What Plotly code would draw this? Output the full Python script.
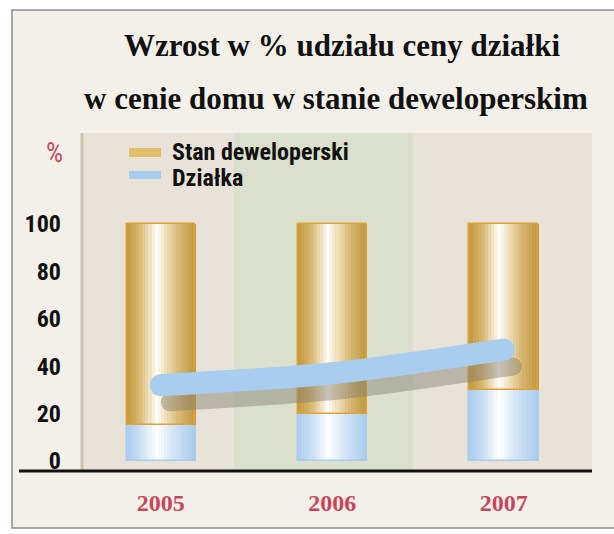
import plotly.graph_objects as go

# ---- data ----
years = ["2005", "2006", "2007"]
dzialka = [15, 20, 30]                 # share of plot price (%)
stan_deweloperski = [85, 80, 70]       # remaining share (%)
trend_dzialka = [32, 37, 47]           # trend line values (%)
y_ticks = [0, 20, 40, 60, 80, 100]

title_line1 = "Wzrost w % udziału ceny działki"
title_line2 = "w cenie domu w stanie deweloperskim"

# ---- styling helpers ----
def hex2rgb(h):
    h = h.lstrip("#")
    return tuple(int(h[i:i + 2], 16) for i in (0, 2, 4))

def interp(stops, t):
    for (t0, c0), (t1, c1) in zip(stops[:-1], stops[1:]):
        if t0 <= t <= t1:
            f = (t - t0) / (t1 - t0) if t1 > t0 else 0
            a, b = hex2rgb(c0), hex2rgb(c1)
            return "rgb(%d,%d,%d)" % tuple(round(a[k] + (b[k] - a[k]) * f) for k in range(3))
    return stops[-1][1]

gold_stops = [(0, "#C29A3E"), (0.18, "#D6B56C"), (0.44, "#FFFDF8"),
              (0.58, "#EEDDB4"), (0.8, "#D4B068"), (1, "#C09840")]
blue_stops = [(0, "#A9CDEE"), (0.2, "#C9DFF4"), (0.44, "#FFFFFF"),
              (0.6, "#E0ECF8"), (0.85, "#BBD6F0"), (1, "#A8CCEC")]

BAR_W = 0.40
N = 22
fig = go.Figure()

def add_cylinder(y, base, stops, edge):
    for i in range(N):
        t = (i + 0.5) / N
        w = BAR_W / N
        fig.add_trace(go.Bar(
            x=years, y=y, base=base, width=w * 1.25, offset=-BAR_W / 2 + i * w,
            marker=dict(color=interp(stops, t), line=dict(width=0)),
            showlegend=False, hoverinfo="skip"))
    fig.add_trace(go.Bar(
        x=years, y=y, base=base, width=BAR_W, offset=-BAR_W / 2,
        marker=dict(color="rgba(0,0,0,0)", line=dict(width=1.5, color=edge)),
        showlegend=False, hoverinfo="skip"))

add_cylinder(dzialka, [0] * len(years), blue_stops, "#A6CBEB")
add_cylinder(stan_deweloperski, dzialka, gold_stops, "#E0A238")

# shadow of trend line (shifted overlay axes)
fig.add_trace(go.Scatter(
    x=years, y=trend_dzialka, xaxis="x2", yaxis="y2", mode="lines+markers",
    line=dict(color="rgb(132,126,114)", width=18, shape="spline", smoothing=0.8),
    marker=dict(size=18, color="rgb(132,126,114)"), opacity=0.45,
    showlegend=False, hoverinfo="skip"))
# trend line
fig.add_trace(go.Scatter(
    x=years, y=trend_dzialka, xaxis="x3", yaxis="y3", mode="lines+markers",
    line=dict(color="#A8CDEE", width=22, shape="spline", smoothing=0.8),
    marker=dict(size=22, color="#A8CDEE"),
    showlegend=False, hoverinfo="skip"))

# ---- layout geometry ----
L, R, T, B = 82, 22, 133, 64
W_PX, H_PX = 614, 534
pw, ph = W_PX - L - R, H_PX - T - B
xr = [-0.46, 2.515]
yr = [-3.8, 138.4]
px_x = pw / (xr[1] - xr[0])
px_y = ph / (yr[1] - yr[0])
dx, dy = 9 / px_x, 17 / px_y

def px2paper_x(px):
    return (px - L) / pw

def px2paper_y(py):
    return (H_PX - B - py) / ph

narrow = "Liberation Sans Narrow, Roboto Condensed, DejaVu Sans Condensed, Arial Narrow, sans-serif"
serif = "Liberation Serif, Times New Roman, serif"

shapes = [
    # frame
    dict(type="rect", xref="paper", yref="paper", x0=px2paper_x(12), x1=px2paper_x(640),
         y0=px2paper_y(528), y1=px2paper_y(10), fillcolor="#F3F0E9",
         line=dict(color="#8C8C8C", width=1.5), layer="below"),
    # bands
    dict(type="rect", xref="paper", yref="paper", x0=0, x1=px2paper_x(234), y0=0, y1=1,
         fillcolor="#E8E2D8", line=dict(width=0), layer="below"),
    dict(type="rect", xref="paper", yref="paper", x0=px2paper_x(234), x1=px2paper_x(413), y0=0, y1=1,
         fillcolor="#DAE0CB", line=dict(width=0), layer="below"),
    dict(type="rect", xref="paper", yref="paper", x0=px2paper_x(413), x1=1, y0=0, y1=1,
         fillcolor="#E8E2D8", line=dict(width=0), layer="below"),
    # left tan line
    dict(type="line", xref="paper", yref="paper", x0=0, x1=0, y0=0, y1=1,
         line=dict(color="#CBC3AA", width=3), layer="below"),
    # axis baseline
    dict(type="line", xref="paper", yref="paper", x0=px2paper_x(19), x1=1,
         y0=px2paper_y(471), y1=px2paper_y(471), line=dict(color="#111111", width=3)),
    # legend swatches
    dict(type="rect", xref="paper", yref="paper", x0=px2paper_x(129), x1=px2paper_x(161),
         y0=px2paper_y(157), y1=px2paper_y(148), fillcolor="#E3BE68", line=dict(width=0)),
    dict(type="rect", xref="paper", yref="paper", x0=px2paper_x(129), x1=px2paper_x(161),
         y0=px2paper_y(179), y1=px2paper_y(171), fillcolor="#A9CDEE", line=dict(width=0)),
]

annotations = [
    dict(text=title_line1, xref="paper", yref="paper", x=px2paper_x(342), y=px2paper_y(45),
         showarrow=False, xanchor="center", yanchor="middle",
         font=dict(family=serif, size=31, color="#111111", weight="bold")),
    dict(text=title_line2, xref="paper", yref="paper", x=px2paper_x(336), y=px2paper_y(98),
         showarrow=False, xanchor="center", yanchor="middle",
         font=dict(family=serif, size=31, color="#111111", weight="bold")),
    dict(text="%", xref="paper", yref="paper", x=px2paper_x(54), y=px2paper_y(153),
         showarrow=False, xanchor="center", yanchor="middle",
         font=dict(family=narrow, size=27, color="#C9485B")),
    dict(text="Stan deweloperski", xref="paper", yref="paper", x=px2paper_x(170), y=px2paper_y(152),
         showarrow=False, xanchor="left", yanchor="middle",
         font=dict(family=narrow, size=24, color="#111111", weight="bold")),
    dict(text="Działka", xref="paper", yref="paper", x=px2paper_x(170), y=px2paper_y(178),
         showarrow=False, xanchor="left", yanchor="middle",
         font=dict(family=narrow, size=24, color="#111111", weight="bold")),
]

fig.update_layout(
    width=W_PX, height=H_PX,
    margin=dict(l=L, r=R, t=T, b=B, pad=0),
    paper_bgcolor="white", plot_bgcolor="rgba(0,0,0,0)",
    barmode="overlay", bargap=0,
    showlegend=False,
    shapes=shapes, annotations=annotations,
    xaxis=dict(type="category", categoryarray=years, range=xr, showgrid=False, zeroline=False,
               showline=False, ticks="", ticklabelstandoff=16,
               tickfont=dict(family=serif, size=24, color="#C8465C", weight="bold")),
    yaxis=dict(range=yr, tickvals=y_ticks, showgrid=False, zeroline=False, showline=False,
               ticks="", ticklabelstandoff=20,
               tickfont=dict(family=narrow, size=24, color="#111111", weight="bold")),
    xaxis2=dict(type="category", categoryarray=years, overlaying="x", range=[xr[0] - dx, xr[1] - dx],
                visible=False),
    yaxis2=dict(overlaying="y", range=[yr[0] + dy, yr[1] + dy], visible=False),
    xaxis3=dict(type="category", categoryarray=years, overlaying="x", range=xr, visible=False),
    yaxis3=dict(overlaying="y", range=yr, visible=False),
)

fig.write_html("out.html", config={"displayModeBar": False},
               post_script="document.body.style.margin='0';document.body.style.overflow='hidden';")
